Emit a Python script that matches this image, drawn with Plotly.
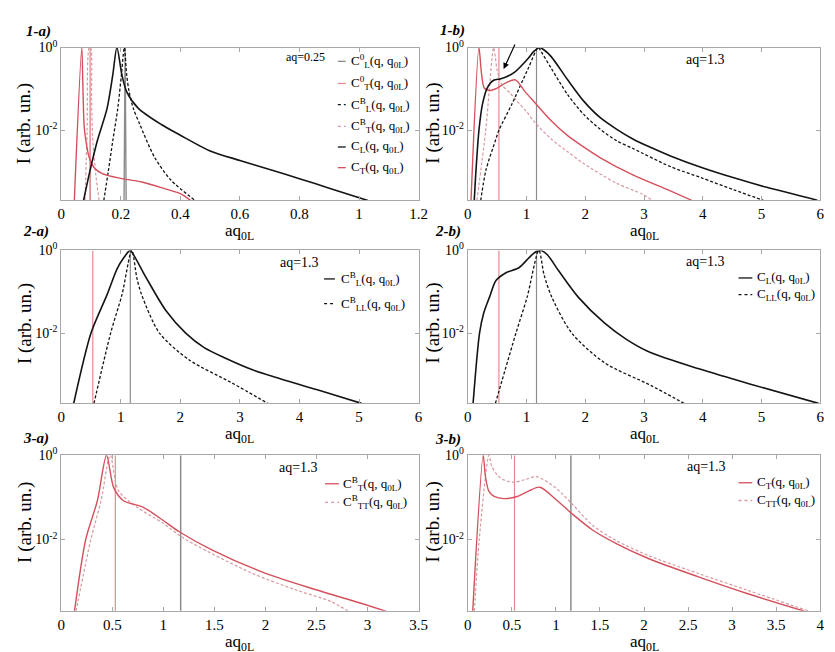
import plotly.graph_objects as go

# values, x = aq0L, y = I (arb. un.)

# ---- 1-a)  aq=0.25
x_1a_CL0 = [0.211, 0.2145, 0.218]
y_1a_CL0 = [2e-4, 1.0, 2e-4]
x_1a_CT0 = [0.096, 0.097, 0.098]
y_1a_CT0 = [2e-4, 1.0, 2e-4]
x_1a_CLB = [0.143, 0.158, 0.173, 0.19, 0.202, 0.212, 0.22, 0.228, 0.242, 0.264, 0.314, 0.369, 0.45]
y_1a_CLB = [2e-4, 1e-3, 5.5e-3, 3.39e-2, 0.214, 1.0, 0.214, 8.51e-2, 3.39e-2, 1.38e-2, 2.19e-3, 6.17e-4, 2e-4]
x_1a_CTB = [0.080, 0.087, 0.094, 0.099, 0.102, 0.106, 0.116, 0.127]
y_1a_CTB = [2e-4, 1e-2, 1.0, 1.0, 6.31e-2, 5.5e-3, 8.71e-4, 2e-4]
x_1a_CL = [0.075, 0.094, 0.121, 0.154, 0.173, 0.187, 0.204, 0.22, 0.259, 0.336, 0.4, 0.5, 0.6, 0.7, 0.8, 0.9, 1.03]
y_1a_CL = [2e-4, 8.71e-4, 5.5e-3, 3.39e-2, 0.214, 1.0, 0.214, 8.51e-2, 3.39e-2, 1.38e-2, 7.59e-3,
           3.16e-3, 1.86e-3, 1.12e-3, 6.76e-4, 3.98e-4, 2e-4]
x_1a_CT = [0.044, 0.069, 0.073, 0.077, 0.083, 0.094, 0.11, 0.138, 0.204, 0.27, 0.347, 0.40, 0.435]
y_1a_CT = [2e-4, 1.0, 0.1, 1.26e-2, 5.5e-3, 2.19e-3, 1.26e-3, 8.91e-4, 6.76e-4, 5.62e-4, 3.89e-4, 2.95e-4, 2e-4]

# ---- 1-b)  aq=1.3
x_1b_CT0 = [0.53, 0.53]
y_1b_CT0 = [2e-4, 1.0]
x_1b_CL0 = [1.17, 1.17]
y_1b_CL0 = [2e-4, 1.0]
x_1b_CTB = [0.155, 0.305, 0.44, 0.47, 0.5, 0.58, 0.72, 0.81, 1.0, 1.14, 1.42, 1.70, 1.97, 2.53, 2.98, 3.14]
y_1b_CTB = [2e-4, 1e-2, 1.0, 0.562, 0.282, 0.126, 7.94e-2, 5.62e-2, 2.82e-2, 1.55e-2, 6.17e-3, 3.02e-3,
            1.58e-3, 5.25e-4, 2.82e-4, 2e-4]
x_1b_CT = [0.055, 0.19, 0.23, 0.28, 0.36, 0.5, 0.64, 0.81, 0.97, 1.14, 1.42, 1.70, 1.97, 2.25, 2.81, 3.42, 3.82]
y_1b_CT = [2e-4, 1.0, 0.263, 0.105, 9.12e-2, 0.105, 0.138, 0.166, 8.71e-2, 4.68e-2, 1.70e-2, 7.41e-3,
           3.98e-3, 2.19e-3, 8.32e-4, 3.55e-4, 2e-4]
x_1b_CL = [0.11, 0.14, 0.19, 0.25, 0.33, 0.44, 0.55, 0.64, 0.81, 1.03, 1.12, 1.22, 1.3, 1.42, 1.70, 1.97,
           2.25, 2.53, 2.81, 3.09, 3.45, 3.98, 4.53, 5.09, 5.95]
y_1b_CL = [2e-4, 1.10e-3, 1e-2, 4.27e-2, 0.105, 0.162, 0.174, 0.191, 0.263, 0.550, 0.794, 1.0, 0.871, 0.603,
           0.166, 5.13e-2, 2.04e-2, 1.07e-2, 6.17e-3, 3.98e-3, 2.40e-3, 1.26e-3, 7.08e-4, 4.17e-4, 2.04e-4]
x_1b_CLB = [0.22, 0.31, 0.47, 0.53, 0.75, 1.03, 1.2, 1.25, 1.42, 1.70, 1.97, 2.25, 2.53, 2.81, 3.45, 3.98, 4.53, 5.04]
y_1b_CLB = [2e-4, 1.10e-3, 5.62e-3, 1e-2, 4.27e-2, 0.316, 1.0, 0.794, 0.316, 7.24e-2, 2.45e-2, 1.07e-2,
            5.62e-3, 3.63e-3, 1.32e-3, 7.08e-4, 3.63e-4, 2e-4]

# ---- 2-a)  aq=1.3
x_2a_CT0 = [0.53, 0.53]
y_2a_CT0 = [2e-4, 1.0]
x_2a_CL0 = [1.16, 1.16]
y_2a_CL0 = [2e-4, 1.0]
x_2a_CLB = [0.21, 0.5, 0.77, 0.94, 1.05, 1.157, 1.22, 1.43, 1.76, 2.09, 2.4, 2.75, 3.2, 3.58, 4.3, 5.04]
y_2a_CLB = [2e-4, 1e-2, 8.51e-2, 0.363, 0.661, 1.0, 0.759, 0.214, 3.47e-2, 1e-2, 4.47e-3, 2.51e-3,
            1.32e-3, 8.71e-4, 4.27e-4, 2e-4]
x_2a_CLLB = [0.55, 0.83, 1.02, 1.185, 1.27, 1.35, 1.65, 2.15, 2.86, 3.47]
y_2a_CLLB = [2e-4, 1e-2, 8.51e-2, 1.0, 0.214, 8.51e-2, 1e-2, 2.24e-3, 6.31e-4, 2e-4]

# ---- 2-b)  aq=1.3
x_2b_CT0 = [0.53, 0.53]
y_2b_CT0 = [2e-4, 1.0]
x_2b_CL0 = [1.17, 1.17]
y_2b_CL0 = [2e-4, 1.0]
x_2b_CL = [0.09, 0.2, 0.27, 0.37, 0.48, 0.65, 0.87, 1.04, 1.14, 1.24, 1.35, 1.55, 1.88, 2.33, 2.7, 3.11,
           3.95, 4.8, 5.97]
y_2b_CL = [2e-4, 1e-2, 3.02e-2, 7.41e-2, 0.186, 0.288, 0.380, 0.661, 0.891, 1.0, 0.794, 0.316, 7.41e-2,
           1.74e-2, 7.08e-3, 3.39e-3, 1.35e-3, 5.89e-4, 2e-4]
x_2b_CLL = [0.47, 0.82, 1.01, 1.21, 1.3, 1.43, 1.77, 2.33, 3.11, 3.68]
y_2b_CLL = [2e-4, 1e-2, 7.41e-2, 1.0, 0.251, 7.41e-2, 1e-2, 1.91e-3, 5.50e-4, 2e-4]

# ---- 3-a)  aq=1.3
x_3a_CT0 = [0.53, 0.53]
y_3a_CT0 = [2e-4, 1.0]
x_3a_CL0 = [1.17, 1.17]
y_3a_CL0 = [2e-4, 1.0]
x_3a_CTB = [0.13, 0.24, 0.354, 0.444, 0.514, 0.61, 0.80, 1.0, 1.16, 1.48, 1.99, 2.48, 2.92, 3.18]
y_3a_CTB = [2e-4, 1e-2, 8.32e-2, 1.0, 0.170, 8.32e-2, 5.89e-2, 2.82e-2, 1.51e-2, 5.62e-3, 1.62e-3,
            6.61e-4, 3.16e-4, 2e-4]
x_3a_CTTB = [0.145, 0.29, 0.39, 0.48, 0.56, 0.74, 1.0, 1.22, 1.86, 2.28, 2.64, 2.81]
y_3a_CTTB = [2e-4, 1e-2, 8.32e-2, 1.0, 0.145, 5.89e-2, 2.40e-2, 1e-2, 1.62e-3, 6.61e-4, 3.39e-4, 2e-4]

# ---- 3-b)  aq=1.3
x_3b_CT0 = [0.53, 0.53]
y_3b_CT0 = [2e-4, 1.0]
x_3b_CL0 = [1.17, 1.17]
y_3b_CL0 = [2e-4, 1.0]
x_3b_CT = [0.056, 0.175, 0.2, 0.24, 0.3, 0.41, 0.56, 0.7, 0.82, 1.0, 1.19, 1.42, 1.68, 2.05, 2.61, 3.17, 3.82]
y_3b_CT = [2e-4, 1.0, 0.316, 0.138, 0.105, 9.33e-2, 0.105, 0.145, 0.174, 8.91e-2, 3.98e-2, 1.66e-2,
           8.13e-3, 3.55e-3, 1.32e-3, 5.25e-4, 2e-4]
x_3b_CTT = [0.075, 0.13, 0.24, 0.27, 0.335, 0.4, 0.52, 0.65, 0.78, 1.0, 1.19, 1.42, 1.68, 2.05, 2.61, 3.17, 3.87]
y_3b_CTT = [2e-4, 1e-2, 1.0, 0.562, 0.339, 0.263, 0.229, 0.263, 0.309, 0.166, 6.76e-2, 2.14e-2, 9.55e-3,
            4.17e-3, 1.58e-3, 6.31e-4, 2e-4]

x_ranges = {'1a': [0, 1.2], '1b': [0, 6], '2a': [0, 6], '2b': [0, 6], '3a': [0, 3.5], '3b': [0, 4]}
x_dticks = {'1a': 0.2, '1b': 1, '2a': 1, '2b': 1, '3a': 0.5, '3b': 0.5}
y_tickvals = [1, 0.01]
y_ticktext = ['10<sup>0</sup>', '10<sup>-2</sup>']

BLACK = '#141414'
RED = '#d4505c'
RED_LIGHT = '#e48a92'
PINK = '#d69aa0'
GRAY = '#8c8c8c'
FRAME = '#a8a8a8'
FONT = 'Liberation Serif'
DASH = '3px,2px'

W, H = 835, 652


def px(x):
    return x / W


def py(y):
    return 1 - y / H


axes = {'1a': '', '1b': '2', '2a': '3', '2b': '4', '3a': '5', '3b': '6'}

fig = go.Figure()


def line(panel, x, y, color, width=1.3, dash='solid', name=None, shape='spline'):
    n = axes[panel]
    fig.add_trace(go.Scatter(x=x, y=y, xaxis='x' + n, yaxis='y' + n, mode='lines', name=name,
                             line=dict(color=color, width=width, dash=dash, shape=shape, smoothing=0.8),
                             showlegend=False, hoverinfo='skip'))


# 1-a
line('1a', x_1a_CL0, y_1a_CL0, GRAY, 1.4, name='C_L^0', shape='linear')
line('1a', x_1a_CT0, y_1a_CT0, RED_LIGHT, 1.2, name='C_T^0', shape='linear')
line('1a', x_1a_CTB, y_1a_CTB, PINK, 1.2, DASH, name='C_T^B')
line('1a', x_1a_CLB, y_1a_CLB, BLACK, 1.3, DASH, name='C_L^B')
line('1a', x_1a_CT, y_1a_CT, RED, 1.4, name='C_T')
line('1a', x_1a_CL, y_1a_CL, BLACK, 1.6, name='C_L')
# 1-b
line('1b', x_1b_CT0, y_1b_CT0, RED_LIGHT, 1.2, shape='linear')
line('1b', x_1b_CL0, y_1b_CL0, GRAY, 1.2, shape='linear')
line('1b', x_1b_CTB, y_1b_CTB, PINK, 1.2, DASH)
line('1b', x_1b_CLB, y_1b_CLB, BLACK, 1.3, DASH)
line('1b', x_1b_CT, y_1b_CT, RED, 1.4)
line('1b', x_1b_CL, y_1b_CL, BLACK, 1.6)
# 2-a
line('2a', x_2a_CT0, y_2a_CT0, RED_LIGHT, 1.2, shape='linear')
line('2a', x_2a_CL0, y_2a_CL0, GRAY, 1.2, shape='linear')
line('2a', x_2a_CLLB, y_2a_CLLB, BLACK, 1.3, DASH)
line('2a', x_2a_CLB, y_2a_CLB, BLACK, 1.6)
# 2-b
line('2b', x_2b_CT0, y_2b_CT0, RED_LIGHT, 1.2, shape='linear')
line('2b', x_2b_CL0, y_2b_CL0, GRAY, 1.2, shape='linear')
line('2b', x_2b_CLL, y_2b_CLL, BLACK, 1.3, DASH)
line('2b', x_2b_CL, y_2b_CL, BLACK, 1.6)
# 3-a
line('3a', x_3a_CT0, y_3a_CT0, RED_LIGHT, 1.2, shape='linear')
line('3a', x_3a_CL0, y_3a_CL0, GRAY, 1.5, shape='linear')
line('3a', x_3a_CTTB, y_3a_CTTB, PINK, 1.2, DASH)
line('3a', x_3a_CTB, y_3a_CTB, RED, 1.4)
# 3-b
line('3b', x_3b_CT0, y_3b_CT0, RED_LIGHT, 1.2, shape='linear')
line('3b', x_3b_CL0, y_3b_CL0, GRAY, 1.5, shape='linear')
line('3b', x_3b_CTT, y_3b_CTT, PINK, 1.2, DASH)
line('3b', x_3b_CT, y_3b_CT, RED, 1.4)

cols = {'a': [px(50), px(413)], 'b': [px(463), px(821)]}
rows = {'1': [py(185), py(30)], '2': [py(391), py(236)], '3': [py(602), py(444)]}

layout = dict(width=W, height=H, margin=dict(l=0, r=0, t=0, b=0),
              paper_bgcolor='white', plot_bgcolor='white',
              font=dict(family=FONT, color='black'))
for panel, n in axes.items():
    common = dict(showline=True, mirror='ticks', linecolor=FRAME, linewidth=1, ticks='inside',
                  ticklen=4, tickcolor=FRAME, showgrid=False, zeroline=False)
    layout['xaxis' + n] = dict(domain=cols[panel[1]], anchor='y' + n, range=x_ranges[panel],
                               tick0=0, dtick=x_dticks[panel], tickfont=dict(size=15), **common)
    layout['yaxis' + n] = dict(domain=rows[panel[0]], anchor='x' + n, type='log', range=[-3.69, 0],
                               tickvals=y_tickvals, ticktext=y_ticktext, tickfont=dict(size=14), **common)
fig.update_layout(**layout)

ann = []
shapes = []


def text(x, y, s, size=14, xanchor='center', angle=0):
    ann.append(dict(x=px(x), y=py(y), xref='paper', yref='paper', text=s, showarrow=False,
                    xanchor=xanchor, yanchor='middle', textangle=angle, font=dict(size=size)))


# panel labels
for s, x, y in [('1-a)', 12, 14), ('1-b)', 433, 13), ('2-a)', 9, 217),
                ('2-b)', 428, 217), ('3-a)', 9, 427), ('3-b)', 428, 428)]:
    text(x, y, '<b><i>' + s + '</i></b>', 15, 'left')

# axis titles
for yy in [217, 424, 635]:
    text(231, yy, 'aq<sub>0L</sub>', 17)
    text(642, yy, 'aq<sub>0L</sub>', 17)
for yy in [107, 310, 512]:
    text(13, yy, 'I (arb. un.)', 19, angle=-90)
    text(428, yy, 'I (arb. un.)', 19, angle=-90)

# aq labels
text(298, 40, 'aq=0.25', 12)
text(704, 42, 'aq=1.3', 14)
text(292, 248, 'aq=1.3', 14)
text(704, 247, 'aq=1.3', 14)
text(291, 456, 'aq=1.3', 14)
text(705, 455, 'aq=1.3', 14)

# legends
q0L = '(q, q<sub>0L</sub>)'
legends = [
    (331, 339, 342, [(44, GRAY, 'solid', 'C<sup>0</sup><sub>L</sub>' + q0L),
                     (66.5, RED_LIGHT, 'solid', 'C<sup>0</sup><sub>T</sub>' + q0L),
                     (88, BLACK, 'dot', 'C<sup>B</sup><sub>L</sub>' + q0L),
                     (110, PINK, 'dot', 'C<sup>B</sup><sub>T</sub>' + q0L),
                     (131, BLACK, 'solid', 'C<sub>L</sub>' + q0L),
                     (152, RED, 'solid', 'C<sub>T</sub>' + q0L)]),
    (317, 328, 332, [(265, BLACK, 'solid', 'C<sup>B</sup><sub>L</sub>' + q0L),
                     (290, BLACK, 'dot', 'C<sup>B</sup><sub>LL</sub>' + q0L)]),
    (738, 752, 755, [(264, BLACK, 'solid', 'C<sub>L</sub>' + q0L),
                     (281, BLACK, 'dot', 'C<sub>LL</sub>' + q0L)]),
    (318, 332, 334, [(473, RED, 'solid', 'C<sup>B</sup><sub>T</sub>' + q0L),
                     (492, PINK, 'dot', 'C<sup>B</sup><sub>TT</sub>' + q0L)]),
    (738, 752, 755, [(472, RED, 'solid', 'C<sub>T</sub>' + q0L),
                     (490, PINK, 'dot', 'C<sub>TT</sub>' + q0L)]),
]
for x0, x1, xt, items in legends:
    for yy, col, dash, label in items:
        shapes.append(dict(type='line', xref='paper', yref='paper', x0=px(x0), x1=px(x1),
                           y0=py(yy), y1=py(yy), line=dict(color=col, width=1.3, dash=dash)))
        text(xt, yy, label, 13, 'left')

# arrow in 1-b
ann.append(dict(x=0.61, y=-0.52, xref='x2', yref='y2', text='', showarrow=True, arrowhead=2,
                arrowsize=1, arrowwidth=1.2, arrowcolor='black', ax=12, ay=-26))

fig.update_layout(annotations=ann, shapes=shapes)
fig.write_html("out.html")
